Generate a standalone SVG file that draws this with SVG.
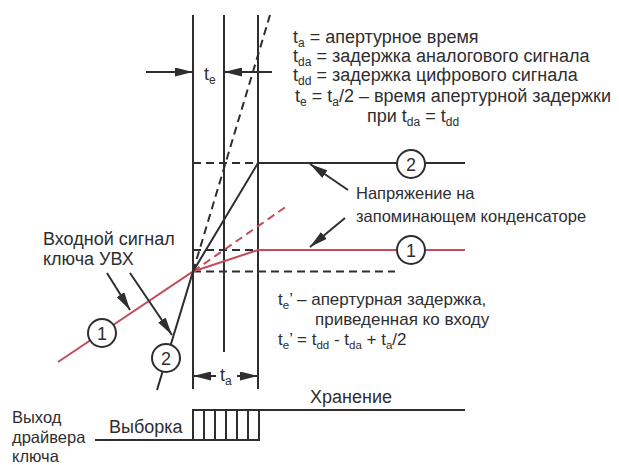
<svg xmlns="http://www.w3.org/2000/svg" width="619" height="465" viewBox="0 0 619 465">
<style>
.k{stroke:#2e2e30;stroke-width:2;fill:none}
.r{stroke:#c54b5c;stroke-width:2;fill:none}
.d{stroke-dasharray:8 5}
.t{font-family:"Liberation Sans",Arial,sans-serif;font-size:18px;fill:#2e2e30}
.s{font-size:12px}
.m{font-size:17px}
.m .s{font-size:11.5px}
.c{fill:#fff;stroke:#2e2e30;stroke-width:2}
.n{font-family:"Liberation Sans",Arial,sans-serif;font-size:18px;fill:#2e2e30;text-anchor:middle}
.a{stroke:#2e2e30;stroke-width:2;fill:none;marker-end:url(#ah)}
</style>
<defs>
<marker id="ah" viewBox="0 0 18 9" refX="18" refY="4.5" markerWidth="18" markerHeight="9" orient="auto" markerUnits="userSpaceOnUse">
<path d="M0,0 L18,4.5 L0,9 z" fill="#2e2e30"/>
</marker>
</defs>
<rect width="619" height="465" fill="#fff"/>

<g id="frame">
<line class="k" x1="193" y1="15" x2="193" y2="389"/>
<line class="k" x1="224" y1="15" x2="224" y2="352"/>
<line class="k" x1="258" y1="15" x2="258" y2="389"/>
<line class="k d" x1="193" y1="163" x2="258" y2="163"/>
<line class="k d" x1="193" y1="250" x2="258" y2="250"/>
<line class="k d" x1="193" y1="271.5" x2="395" y2="271.5"/>
</g>

<g id="signals">
<polyline class="r" points="58,362 193,271.5 258,250 465,250"/>
<line class="r d" x1="193" y1="271.5" x2="287" y2="206"/>
<polyline class="k" points="157,390 193,271.5 258,163 465,163"/>
<line class="k d" x1="193" y1="271.5" x2="270" y2="15"/>
</g>

<g id="driver">
<path class="k" d="M95,440 H259 V410 H465 M193,440 V410 H259 M204,410 V440 M215,410 V440 M226,410 V440 M237,410 V440 M248,410 V440"/>
</g>

<g id="connectors">
<line class="a" x1="146" y1="72" x2="193" y2="72"/>
<line class="a" x1="272" y1="72" x2="224" y2="72"/>
<line class="a" x1="216" y1="376" x2="193" y2="376"/>
<line class="a" x1="237" y1="376" x2="258" y2="376"/>
<line class="a" x1="348" y1="190" x2="310" y2="164"/>
<line class="a" x1="345" y1="218" x2="310" y2="247"/>
<line class="a" x1="107" y1="273" x2="130" y2="310"/>
<line class="a" x1="130" y1="273" x2="172" y2="335"/>
</g>

<g id="node-out2"><circle class="c" cx="411" cy="164" r="14"/><text class="n" x="411" y="170.5">2</text></g>
<g id="node-out1"><circle class="c" cx="411" cy="250" r="14"/><text class="n" x="411" y="256.5">1</text></g>
<g id="node-in1"><circle class="c" cx="102" cy="333" r="14"/><text class="n" x="102" y="339.5">1</text></g>
<g id="node-in2"><circle class="c" cx="166" cy="358" r="14"/><text class="n" x="166" y="364.5">2</text></g>

<g id="labels" class="t">
<text x="204" y="80">t<tspan class="s" dy="4">e</tspan></text>
<text x="220" y="381">t<tspan class="s" dy="4">a</tspan></text>
<text x="293" y="43">t<tspan class="s" dy="4">a</tspan><tspan dy="-4"> = апертурное время</tspan></text>
<text x="293" y="62">t<tspan class="s" dy="4">da</tspan><tspan dy="-4"> = задержка аналогового сигнала</tspan></text>
<text x="293" y="81">t<tspan class="s" dy="4">dd</tspan><tspan dy="-4"> = задержка цифрового сигнала</tspan></text>
<text x="295" y="102">t<tspan class="s" dy="4">e</tspan><tspan dy="-4"> = t</tspan><tspan class="s" dy="4">a</tspan><tspan dy="-4">/2 – время апертурной задержки</tspan></text>
<text x="367" y="122">при t<tspan class="s" dy="4">da</tspan><tspan dy="-4"> = t</tspan><tspan class="s" dy="4">dd</tspan></text>
<text x="356" y="199" font-size="16.5">Напряжение на</text>
<text x="356" y="222" font-size="16.5">запоминающем конденсаторе</text>
<text x="43" y="245">Входной сигнал</text>
<text x="43" y="265">ключа УВХ</text>
<text class="m" x="278" y="305">t<tspan class="s" dy="4">e</tspan><tspan dy="-4">’ – апертурная задержка,</tspan></text>
<text class="m" x="315" y="325">приведенная ко входу</text>
<text class="m" x="278" y="345">t<tspan class="s" dy="4">e</tspan><tspan dy="-4">’ = t</tspan><tspan class="s" dy="4">dd</tspan><tspan dy="-4"> - t</tspan><tspan class="s" dy="4">da</tspan><tspan dy="-4"> + t</tspan><tspan class="s" dy="4">a</tspan><tspan dy="-4">/2</tspan></text>
<text x="310" y="403">Хранение</text>
<text x="109" y="433">Выборка</text>
<text x="12" y="423" font-size="16.5">Выход</text>
<text x="12" y="443" font-size="16.5">драйвера</text>
<text x="12" y="462" font-size="16.5">ключа</text>
</g>
</svg>
